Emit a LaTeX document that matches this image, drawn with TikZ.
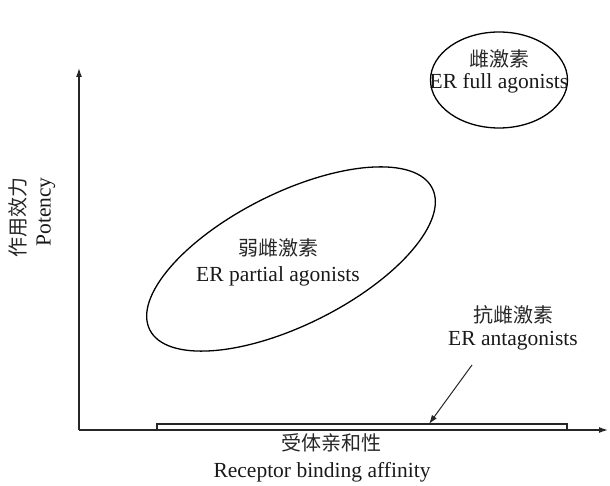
\documentclass[tikz,border=0pt]{standalone}
\usepackage{fontspec}
\setmainfont{Liberation Serif}
\newfontfamily\cjk{Noto Sans CJK SC}
\usetikzlibrary{arrows.meta,shapes.geometric}
\begin{document}
\begin{tikzpicture}[x=1pt,y=1pt,
  line/.style={draw=black!85, line width=1.3pt},
  tip/.style={-{Latex[length=9pt,width=6pt]}},
  lbl/.style={font=\fontsize{21.5}{24}\selectfont, text=black!90, inner sep=0pt},
  cjklbl/.style={font=\fontsize{20}{24}\selectfont\cjk, text=black!85, inner sep=0pt},
  oval/.style={ellipse, draw=black, line width=1.3pt, inner sep=0pt}]
\useasboundingbox (0,0) rectangle (610,486);
% axes
\coordinate (O) at (79,56);
\coordinate (ytip) at (79,418);
\coordinate (xtip) at (608,56);
\draw[line, tip] (O) -- (ytip);
\draw[line, tip] (O) -- (xtip);
% bar of antagonists
\node[draw=black!85, line width=1.3pt, fill=white, minimum width=410pt, minimum height=6pt, inner sep=0pt] (bar) at (362,59) {};
% ellipses
\node[oval, minimum width=137pt, minimum height=96pt] (full) at (499,406) {};
\node[oval, minimum width=316pt, minimum height=132pt, rotate=26.6] (partial) at (291,227) {};
% texts
\node[cjklbl] (fullcn) at (499,427) {雌激素};
\node[lbl] (fullen) at (499,403) {ER full agonists};
\node[cjklbl] (partcn) at (278,238) {弱雌激素};
\node[lbl] (parten) at (278,210) {ER partial agonists};
\node[cjklbl] (antcn) at (513,171) {抗雌激素};
\node[lbl] (anten) at (513,145) {ER antagonists};
\node[cjklbl] (xcn) at (331,43) {受体亲和性};
\node[lbl] (xen) at (322,14) {Receptor binding affinity};
\node[cjklbl, rotate=90] (ycn) at (18,268) {作用效力};
\node[lbl, rotate=90] (yen) at (46,274) {Potency};
% arrow to bar
\coordinate (astart) at (472,121);
\coordinate (barhit) at (429,62);
\draw[line, line width=1pt, tip] (astart) -- (barhit);
\end{tikzpicture}
\end{document}
